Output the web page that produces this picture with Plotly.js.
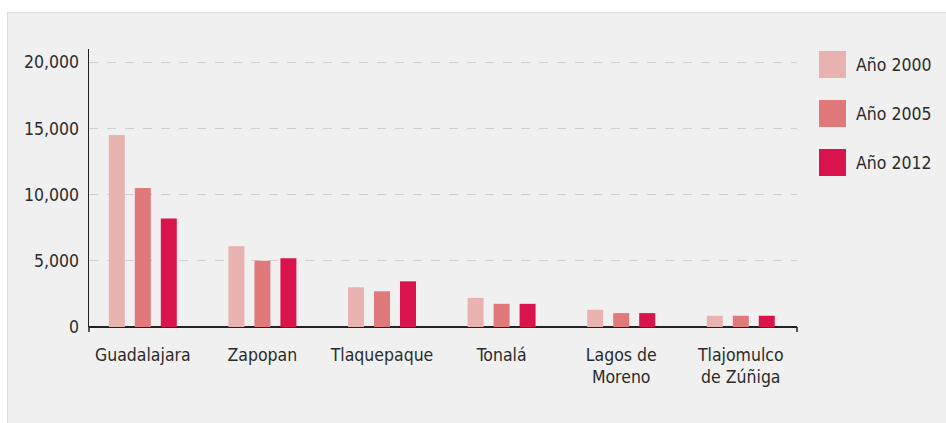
<!DOCTYPE html>
<html><head><meta charset="utf-8">
<script src="https://cdn.plot.ly/plotly-3.0.1.min.js"></script>
<style>
body{margin:0;background:#fff;}
#chart{position:absolute;left:7px;top:12px;width:938px;height:410px;border-left:1px solid #dcdcdc;border-top:1px solid #dcdcdc;background:#eff0ef;}
</style></head><body>
<div id="chart"></div>
<script>
const categories = ["Guadalajara","Zapopan","Tlaquepaque","Tonalá","Lagos de<br>Moreno","Tlajomulco<br>de Zúñiga"];
const seriesNames = ["Año 2000","Año 2005","Año 2012"];
const values2000 = [14500, 6100, 3000, 2200, 1300, 850];
const values2005 = [10500, 5000, 2700, 1750, 1050, 850];
const values2012 = [8200, 5200, 3450, 1750, 1050, 850];
const colors = ["#e8b2af","#e07a7a","#d9134c"];
const yTicks = [0, 5000, 10000, 15000, 20000];
const yTickText = ["0","5,000","10,000","15,000","20,000"];

const FONT = '"DejaVu Sans Condensed","Liberation Sans Narrow",sans-serif';
const series = [values2000, values2005, values2012];
const traces = series.map((v,i)=>({
  type:'bar', x:categories, y:v, name:seriesNames[i],
  marker:{color:colors[i]}, showlegend:false, hoverinfo:'skip'
}));

const shapes = [], annotations = [];
const rowY = [64.5,113.5,162.5]; // pixel centers in page
seriesNames.forEach((n,i)=>{
  const cy = rowY[i]-13;
  const y0 = 1 - (cy-13.5-36)/278, y1 = 1 - (cy+13.5-36)/278;
  const x0 = (819-8-81)/708, x1 = (846-8-81)/708;
  shapes.push({type:'rect', xref:'paper', yref:'paper', x0:x0, x1:x1, y0:y0, y1:y1, fillcolor:colors[i], line:{width:0}});
  annotations.push({xref:'paper', yref:'paper', x:(854-8-81)/708, y:1-(cy-36)/278, text:n, showarrow:false, xanchor:'left', yanchor:'middle', font:{family:FONT,size:17.5,color:'#2b2b2b'}});
});
// small end caps on the axes
shapes.push({type:'line', xref:'paper', yref:'paper', x0:0, x1:0, y0:0, y1:-0.018, line:{color:'#222', width:1.5}});
shapes.push({type:'line', xref:'paper', yref:'paper', x0:1, x1:1, y0:0, y1:-0.018, line:{color:'#222', width:1.5}});

const layout = {
  width:938, height:410,
  margin:{l:81, r:149, t:36, b:96},
  paper_bgcolor:'#eff0ef', plot_bgcolor:'#eff0ef',
  font:{family:FONT, size:17.5, color:'#2b2b2b'},
  barmode:'group', bargap:0.348, bargroupgap:0.385,
  xaxis:{type:'category', range:[-0.45,5.47], showline:false, showgrid:false, ticks:'', zeroline:false, ticklabelstandoff:15, tickfont:{family:FONT,size:17.5,color:'#2b2b2b'}, fixedrange:true},
  yaxis:{range:[0,21000], tickvals:yTicks, ticktext:yTickText, showline:true, linecolor:'#222', linewidth:1.5, showgrid:true, gridcolor:'#cfcfcf', griddash:'dash', gridwidth:1, zeroline:true, zerolinecolor:'#222', zerolinewidth:2.5, ticks:'', ticklabelstandoff:5, tickfont:{family:FONT,size:17.5,color:'#2b2b2b'}, fixedrange:true},
  shapes:shapes, annotations:annotations
};
Plotly.newPlot('chart', traces, layout, {displayModeBar:false, staticPlot:true});
</script></body></html>
